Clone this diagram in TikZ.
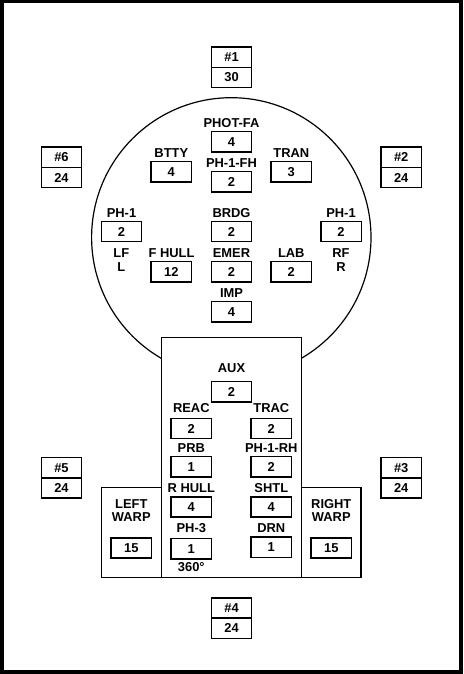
\documentclass[tikz,border=0pt]{standalone}
\usepackage{fontspec}
\setmainfont{Liberation Sans}
\begin{document}
\begin{tikzpicture}[x=1pt,y=-1pt,
  numbox/.style={draw,line width=1.4pt,minimum width=40.4pt,minimum height=20.3pt,inner sep=0pt,font=\fontsize{12.9}{13}\selectfont\bfseries},
  lbl/.style={inner sep=0pt,font=\fontsize{12.9}{13}\selectfont\bfseries},
  hull/.style={draw,line width=1.4pt,fill=white}]
\useasboundingbox (0,0) rectangle (463,674);
\fill[black] (0,0) rectangle (463,674);
\fill[white] (3.5,3.5) rectangle (459.3,669.8);
% saucer
\draw[line width=1.2pt] (231.3,237.4) circle[radius=139.7pt];
% engineering hull and warp nacelles
\draw[hull] (161.3,337.3) rectangle (301.7,577.7);
\draw[hull] (101.3,487.7) rectangle (161.3,577.7);
\draw[hull] (301.7,487.7) rectangle (361,577.7);
% stacked boxes
\node[numbox] (n1a) at (231.5,57.2) {\#1};
\node[numbox] (n1b) at (231.5,77.5) {30};
\node[numbox] (n6a) at (61.5,157.3) {\#6};
\node[numbox] (n6b) at (61.5,177.6) {24};
\node[numbox] (n2a) at (401.2,157.3) {\#2};
\node[numbox] (n2b) at (401.2,177.6) {24};
\node[numbox] (n5a) at (61.5,467.7) {\#5};
\node[numbox] (n5b) at (61.5,488) {24};
\node[numbox] (n3a) at (401.2,467.7) {\#3};
\node[numbox] (n3b) at (401.2,488) {24};
\node[numbox] (n4a) at (231.5,608) {\#4};
\node[numbox] (n4b) at (231.5,628.3) {24};
% saucer contents
\node[lbl] (lphot) at (231.5,122.7) {PHOT-FA};
\node[numbox] (bphot) at (231.5,141.7) {4};
\node[lbl] (lbtty) at (171.3,153) {BTTY};
\node[numbox] (bbtty) at (171.3,171.8) {4};
\node[lbl] (lfh) at (231.5,163) {PH-1-FH};
\node[numbox] (bfh) at (231.5,181.8) {2};
\node[lbl] (ltran) at (291.3,153) {TRAN};
\node[numbox] (btran) at (291.3,171.8) {3};
\node[lbl] (lph1l) at (121.5,212.7) {PH-1};
\node[numbox] (bph1l) at (121.5,231.5) {2};
\node[lbl] (llf) at (121.3,252.7) {LF};
\node[lbl] (ll) at (121.3,266.7) {L};
\node[lbl] (lbrdg) at (231.5,212.7) {BRDG};
\node[numbox] (bbrdg) at (231.5,231.5) {2};
\node[lbl] (lph1r) at (341,212.7) {PH-1};
\node[numbox] (bph1r) at (341,231.5) {2};
\node[lbl] (lrf) at (341,252.7) {RF};
\node[lbl] (lr) at (341,266.7) {R};
\node[lbl] (lfhull) at (171.5,252.7) {F HULL};
\node[numbox] (bfhull) at (171.3,271.8) {12};
\node[lbl] (lemer) at (231.5,252.7) {EMER};
\node[numbox] (bemer) at (231.5,271.8) {2};
\node[lbl] (llab) at (291.3,252.7) {LAB};
\node[numbox] (blab) at (291.3,271.8) {2};
\node[lbl] (limp) at (231.5,292.7) {IMP};
\node[numbox] (bimp) at (231.5,311.8) {4};
% engineering contents
\node[lbl] (laux) at (231.5,367.7) {AUX};
\node[numbox] (baux) at (231.5,391.8) {2};
\node[lbl] (lreac) at (191.3,408) {REAC};
\node[numbox] (breac) at (191.3,428.5) {2};
\node[lbl] (ltrac) at (271.3,408) {TRAC};
\node[numbox] (btrac) at (271.3,428.5) {2};
\node[lbl] (lprb) at (191.3,447.7) {PRB};
\node[numbox] (bprb) at (191.3,466.8) {1};
\node[lbl] (lrh) at (271.3,447.7) {PH-1-RH};
\node[numbox] (brh) at (271.3,466.8) {2};
\node[lbl] (lrhull) at (191.3,487.7) {R HULL};
\node[numbox] (brhull) at (191.3,507) {4};
\node[lbl] (lshtl) at (271.3,487.7) {SHTL};
\node[numbox] (bshtl) at (271.3,507) {4};
\node[lbl] (lph3) at (191.3,528) {PH-3};
\node[numbox] (bph3) at (191.3,548.7) {1};
\node[lbl] (l360) at (191.3,567) {360°};
\node[lbl] (ldrn) at (271.3,528) {DRN};
\node[numbox] (bdrn) at (271.3,547.2) {1};
% warp nacelles
\node[lbl,align=center,font=\fontsize{12.9}{13.3}\selectfont\bfseries] (lleft) at (131.3,510.3) {LEFT\\WARP};
\node[numbox] (bleft) at (131.3,548) {15};
\node[lbl,align=center,font=\fontsize{12.9}{13.3}\selectfont\bfseries] (lright) at (331.3,510.3) {RIGHT\\WARP};
\node[numbox] (bright) at (331.3,548) {15};
\end{tikzpicture}
\end{document}
